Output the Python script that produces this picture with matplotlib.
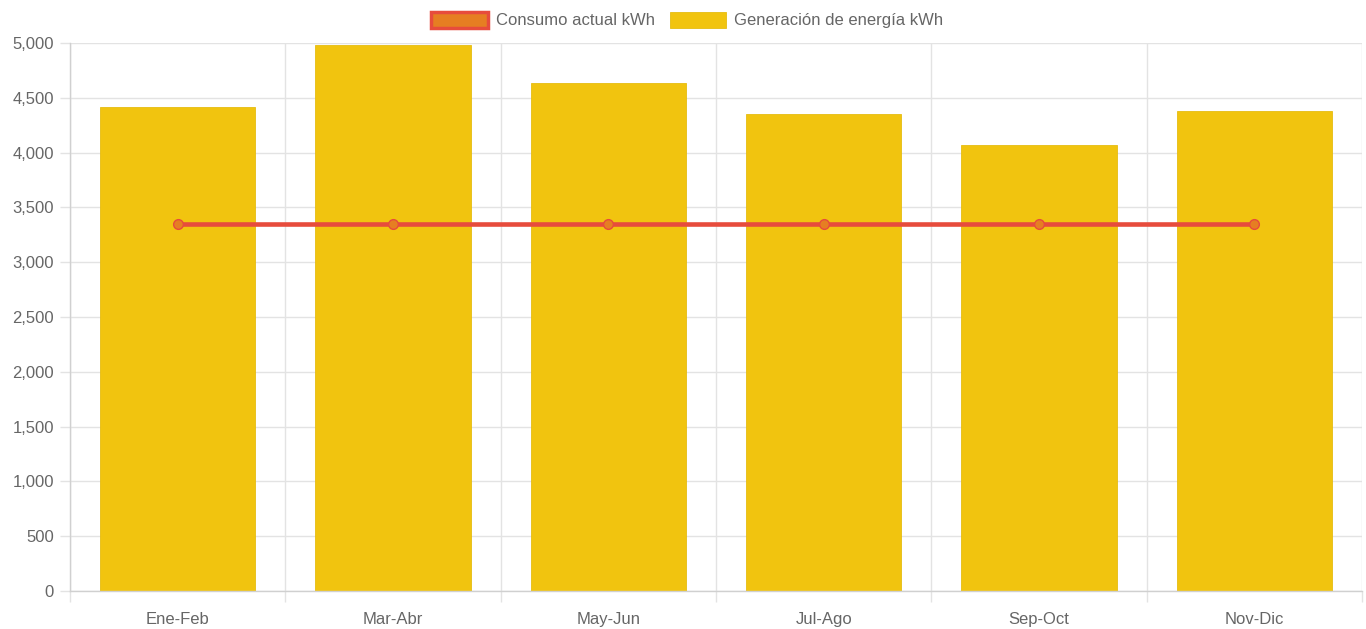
import matplotlib.pyplot as plt
import numpy as np
from matplotlib.patches import Patch
from matplotlib.ticker import FuncFormatter, MultipleLocator

plt.rcParams['font.family'] = ['Liberation Sans', 'DejaVu Sans']

periods = ['Ene-Feb', 'Mar-Abr', 'May-Jun', 'Jul-Ago', 'Sep-Oct', 'Nov-Dic']
generation_kwh = [4416, 4982, 4635, 4352, 4069, 4380]
consumption_kwh = [3350, 3350, 3350, 3350, 3350, 3350]

bar_color = '#f1c40f'
line_color = '#e74c3c'
marker_color = '#e67e22'
grid_color = '#e3e3e3'
text_color = '#666666'

fig = plt.figure(figsize=(13.66, 6.29), dpi=100)
ax = fig.add_axes([70 / 1366, 38 / 629, 1292 / 1366, 548 / 629])

x = np.arange(len(periods))

# grid first, bars on top of it
ax.set_axisbelow(True)
ax.bar(x, generation_kwh, width=0.72, color=bar_color, edgecolor='#e6bc12',
       linewidth=0.6, zorder=2)
ax.plot(x, consumption_kwh, color=line_color, linewidth=3.3, marker='o',
        markersize=7, markerfacecolor=marker_color, markeredgecolor=line_color,
        markeredgewidth=1, zorder=3)

ax.set_xlim(-0.5, len(periods) - 0.5)
ax.set_ylim(0, 5000)

ax.yaxis.set_major_locator(MultipleLocator(500))
ax.yaxis.set_major_formatter(FuncFormatter(lambda v, p: '{:,.0f}'.format(v)))
ax.set_xticks(x)
ax.set_xticklabels(periods)
ax.set_xticks(np.arange(-0.5, len(periods)), minor=True)

ax.grid(axis='y', which='major', color=grid_color, linewidth=1)
ax.grid(axis='x', which='minor', color=grid_color, linewidth=1)

ax.tick_params(axis='y', length=7.5, width=1, color=grid_color, pad=4,
               labelsize=12, labelcolor=text_color)
ax.tick_params(axis='x', which='major', length=0, pad=15, labelsize=12,
               labelcolor=text_color)
ax.tick_params(axis='x', which='minor', length=8, width=1, color=grid_color)

for side in ['top', 'right']:
    ax.spines[side].set_visible(False)
for side in ['left', 'bottom']:
    ax.spines[side].set_color('#d0d0d0')
    ax.spines[side].set_linewidth(1)

handles = [Patch(facecolor=marker_color, edgecolor=line_color, linewidth=2.5),
           Patch(facecolor=bar_color, edgecolor='#e6bc12', linewidth=0.6)]
labels = ['Consumo actual kWh', 'Generación de energía kWh']
fig.legend(handles, labels, loc='center', bbox_to_anchor=(0.503, 1 - 20 / 629),
           ncol=2, frameon=False, fontsize=12, labelcolor=text_color,
           handlelength=3.4, handleheight=1.1, handletextpad=0.45,
           columnspacing=0.9)

plt.savefig('out.png', dpi=100)
